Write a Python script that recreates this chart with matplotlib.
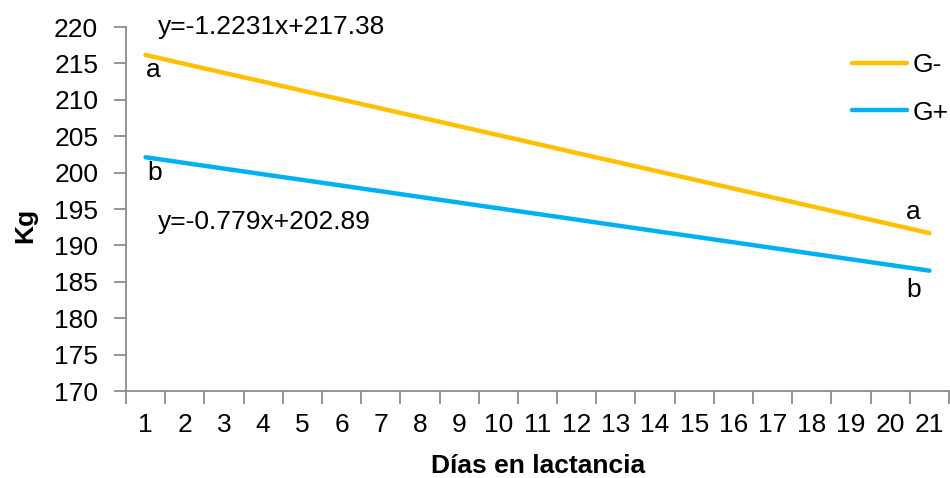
import matplotlib
matplotlib.use("Agg")
import matplotlib.pyplot as plt

plt.rcParams['font.family'] = ['Liberation Sans', 'DejaVu Sans']

dias = list(range(1, 22))
# peso (kg) por día de lactancia, según las rectas ajustadas
g_menos = [216.16, 214.93, 213.71, 212.49, 211.26, 210.04, 208.82, 207.60, 206.37, 205.15, 203.93,
           202.70, 201.48, 200.26, 199.03, 197.81, 196.59, 195.36, 194.14, 192.92, 191.69]
g_mas = [202.11, 201.33, 200.55, 199.77, 199.00, 198.22, 197.44, 196.66, 195.88, 195.10, 194.32,
         193.54, 192.76, 191.98, 191.21, 190.43, 189.65, 188.87, 188.09, 187.31, 186.53]
series_names = ['G-', 'G+']
series_colors = ['#FFC000', '#00B0F0']
ecuaciones = ['y=-1.2231x+217.38', 'y=-0.779x+202.89']

FS = 19
GRIS = '#8C8C8C'

fig = plt.figure(figsize=(9.5, 4.78), dpi=100)
ax = fig.add_axes([0.1326, 0.182, 0.8664, 0.7615])

for ys, name, col in zip([g_menos, g_mas], series_names, series_colors):
    ax.plot(dias, ys, color=col, lw=3.2, solid_capstyle='round', label=name)

ax.set_xlim(0.5, 21.5)
ax.set_ylim(170, 220)
ax.set_yticks(range(170, 221, 5))
ax.set_xticks(dias)
ax.set_xticks([d + 0.5 for d in range(0, 22)], minor=True)

for side in ['top', 'right']:
    ax.spines[side].set_visible(False)
for side in ['left', 'bottom']:
    ax.spines[side].set_color(GRIS)
    ax.spines[side].set_linewidth(1.3)

ax.tick_params(axis='y', length=9, width=1.3, color=GRIS, labelsize=FS, pad=11)
ax.tick_params(axis='x', which='major', length=0, labelsize=FS, pad=16)
ax.tick_params(axis='x', which='minor', length=9, width=1.3, color=GRIS)

# ecuaciones y letras de significancia
ax.text(1.32, 220.0, ecuaciones[0], fontsize=FS, va='center', ha='left')
ax.text(1.32, 193.2, ecuaciones[1], fontsize=FS, va='center', ha='left')
ax.text(1.01, 214.1, 'a', fontsize=FS, va='center', ha='left')
ax.text(1.04, 199.9, 'b', fontsize=FS, va='center', ha='left')
ax.text(20.40, 194.6, 'a', fontsize=FS, va='center', ha='left')
ax.text(20.40, 183.9, 'b', fontsize=FS, va='center', ha='left')

fig.text(25 / 950, 1 - 225 / 478, 'Kg', rotation=90, fontsize=FS, fontweight='bold',
         ha='center', va='center')
fig.text(538 / 950, 1 - 466 / 478, 'Días en lactancia', fontsize=FS, fontweight='bold',
         ha='center', va='center')

ax.legend(loc='center left', bbox_to_anchor=(852 / 950, 1 - 88.8 / 478), bbox_transform=fig.transFigure,
          frameon=False, fontsize=FS, handlelength=2.1, handletextpad=0.2, labelspacing=0.9,
          borderpad=0, borderaxespad=0)

fig.savefig('out.png', dpi=100)
